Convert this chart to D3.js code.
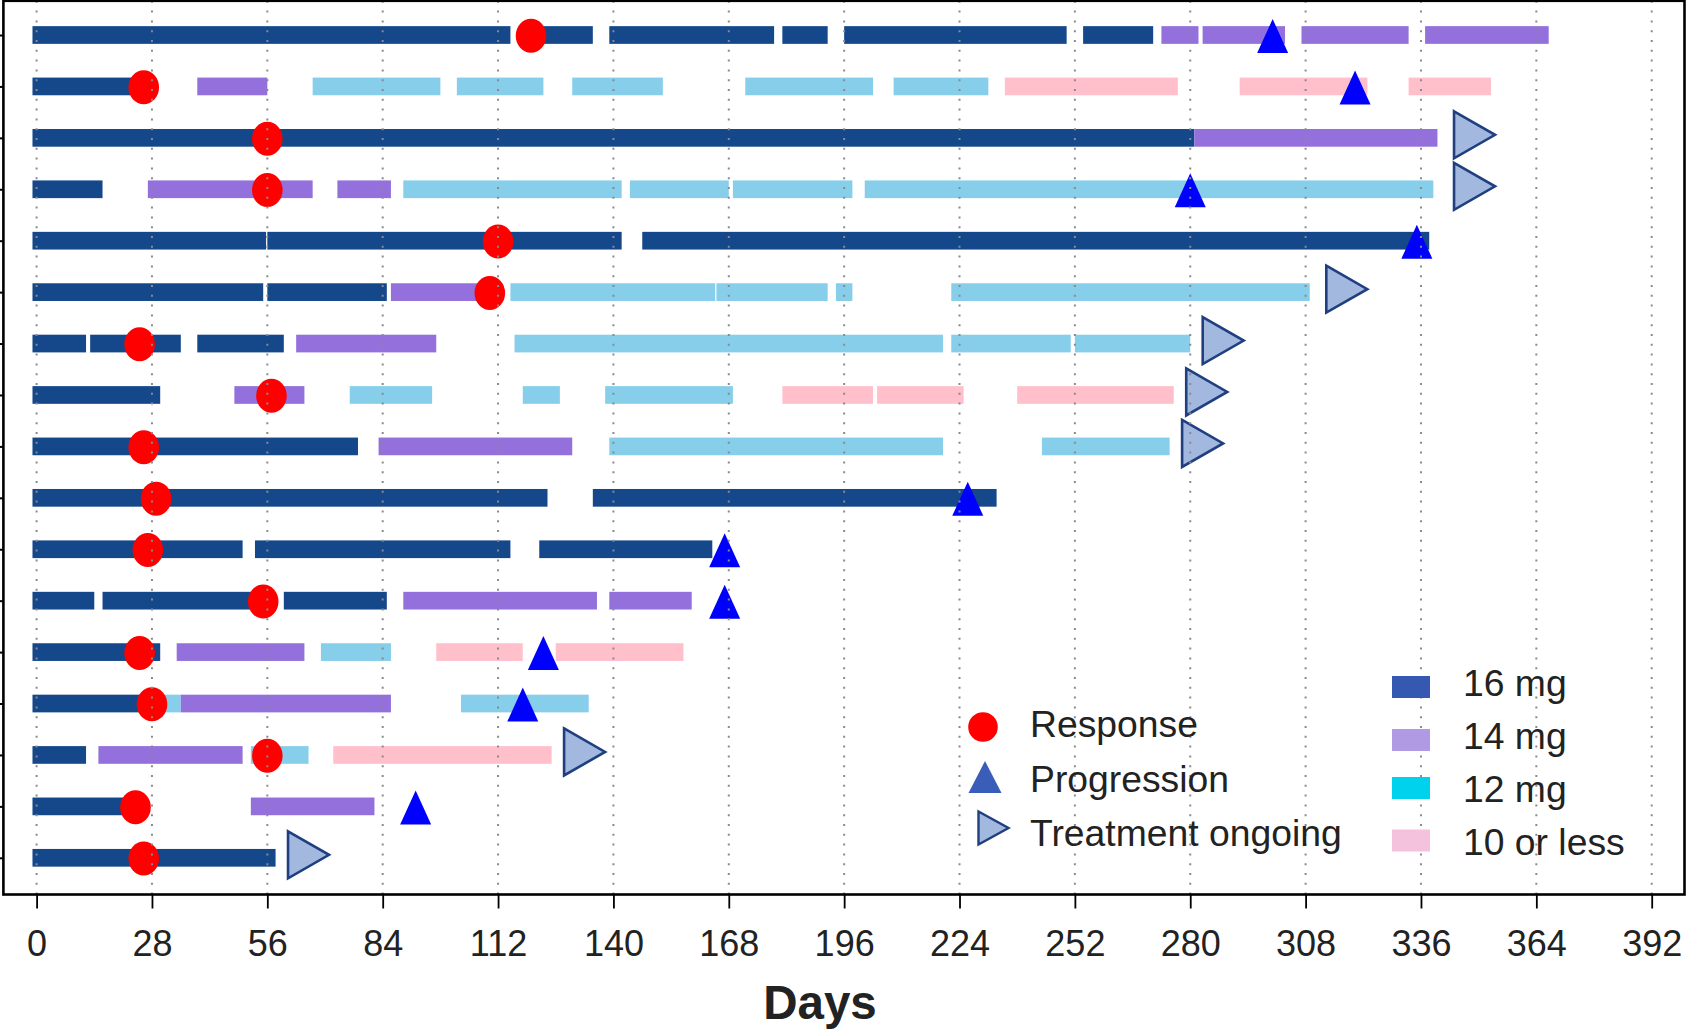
<!DOCTYPE html>
<html lang="en">
<head>
<meta charset="UTF-8">
<title>Swimmer plot - dose by day</title>
<script src="https://d3js.org/d3.v7.min.js"></script>
<style>
  html, body { margin: 0; padding: 0; background: #fff; }
  svg { display: block; }
  text { font-family: "Liberation Sans", Arial, Helvetica, sans-serif; fill: #222; }
</style>
</head>
<body>
<svg width="1686" height="1029"></svg>
<script>
// dose levels in legend order
const doseLabels = ["16 mg", "14 mg", "12 mg", "10 or less"];
const barColors = ["#14488a", "#9370db", "#87ceeb", "#ffc0cb"];
const swatchColors = ["#3558b0", "#b09ae3", "#00d2ee", "#f5c2dd"];

const patients = d3.range(1, 18);
const dayTicks = [0, 28, 56, 84, 112, 140, 168, 196, 224, 252, 280, 308, 336, 364, 392];

// dosing periods per patient (top row first): [start day, end day, dose index]
const dosing = [
  [[-1,115,0],[117,135,0],[139,179,0],[181,192,0],[196,250,0],[254,271,0],[273,282,1],[283,303,1],[307,333,1],[337,367,1]],
  [[-1,26,0],[39,56,1],[67,98,2],[102,123,2],[130,152,2],[172,203,2],[208,231,2],[235,277,3],[292,323,3],[333,353,3]],
  [[-1,281,0],[281,340,1]],
  [[-1,16,0],[27,67,1],[73,86,1],[89,142,2],[144,168,2],[169,198,2],[201,339,2]],
  [[-1,55.7,0],[56,142,0],[147,338,0]],
  [[-1,55,0],[56,85,0],[86,111,1],[115,164.7,2],[165,192,2],[194,198,2],[222,309,2]],
  [[-1,12,0],[13,35,0],[39,60,0],[63,97,1],[116,220,2],[222,251,2],[252,280,2]],
  [[-1,30,0],[48,65,1],[76,96,2],[118,127,2],[138,169,2],[181,203,3],[204,225,3],[238,276,3]],
  [[-1,78,0],[83,130,1],[139,220,2],[244,275,2]],
  [[-1,124,0],[135,233,0]],
  [[-1,50,0],[53,115,0],[122,164,0]],
  [[-1,14,0],[16,56,0],[60,85,0],[89,136,1],[139,159,1]],
  [[-1,30,0],[34,65,1],[69,86,2],[97,118,3],[126,157,3]],
  [[-1,29,0],[29,35,2],[35,86,1],[103,134,2]],
  [[-1,12,0],[15,50,1],[52,66,2],[72,125,3]],
  [[-1,24,0],[52,82,1]],
  [[-1,58,0]]
];

const responseDay    = [120, 26, 56, 56, 112, 110, 25, 57, 26, 29, 27, 55, 25, 28, 56, 24, 26];
const progressionDay = [300, 320, null, 280, 335, null, null, null, null, 226, 167, 167, 123, 118, null, 92, null];
const ongoingDay     = [null, null, 349, 349, null, 318, 288, 284, 283, null, null, null, null, null, 133, null, 66];

const eventLabels = ["Response", "Progression", "Treatment ongoing"];

// layout
const box = { left: 3.4, right: 1684.5, top: 0.8, bottom: 894.5 };
const svg = d3.select("svg");

const x = d3.scaleLinear().domain([0, 392]).range([36.6, 1651.7]);
const y = d3.scalePoint().domain(patients).range([35, 857.8]);
const barH = 17.7;

// bars
const rows = svg.append("g").attr("class", "bars");
dosing.forEach((segs, i) => {
  rows.selectAll(null)
    .data(segs)
    .enter().append("rect")
    .attr("x", d => x(d[0]))
    .attr("width", d => x(d[1]) - x(d[0]))
    .attr("y", y(patients[i]) - barH / 2)
    .attr("height", barH)
    .attr("fill", d => barColors[d[2]]);
});

// response
svg.append("g").selectAll("ellipse")
  .data(responseDay.map((d, i) => ({ day: d, p: patients[i] })).filter(d => d.day != null))
  .enter().append("ellipse")
  .attr("cx", d => x(d.day))
  .attr("cy", d => y(d.p) + 0.8)
  .attr("rx", 15.3)
  .attr("ry", 17)
  .attr("fill", "#ff0000");

// progression
const upTri = (w, h) => `M0,${-h / 2}L${w / 2},${h / 2}L${-w / 2},${h / 2}Z`;
svg.append("g").selectAll("path")
  .data(progressionDay.map((d, i) => ({ day: d, p: patients[i] })).filter(d => d.day != null))
  .enter().append("path")
  .attr("transform", d => `translate(${x(d.day)},${y(d.p) + 1})`)
  .attr("d", upTri(31, 34))
  .attr("fill", "#0000ff");

// treatment ongoing
const rightTri = (w, h) => `M${-w / 2},${-h / 2}L${w / 2},0L${-w / 2},${h / 2}Z`;
svg.append("g").selectAll("path")
  .data(ongoingDay.map((d, i) => ({ day: d, p: patients[i] })).filter(d => d.day != null))
  .enter().append("path")
  .attr("transform", d => `translate(${x(d.day)},${y(d.p) - 3})`)
  .attr("d", rightTri(41, 47))
  .attr("fill", "#a3b8de")
  .attr("stroke", "#1f3f80")
  .attr("stroke-width", 2.6)
  .attr("stroke-linejoin", "miter");

// dotted grid on top of the marks
svg.append("g").selectAll("line")
  .data(dayTicks)
  .enter().append("line")
  .attr("x1", d => x(d)).attr("x2", d => x(d))
  .attr("y1", box.top).attr("y2", box.bottom)
  .attr("stroke", "#8a8a8a")
  .attr("stroke-width", 2)
  .attr("stroke-dasharray", "2 7.8");

// axes
const xAxis = svg.append("g")
  .attr("transform", `translate(0,${box.bottom})`)
  .call(d3.axisBottom(x).tickValues(dayTicks).tickSizeInner(14).tickSizeOuter(0).tickPadding(22));
xAxis.select(".domain").remove();
xAxis.selectAll(".tick line").attr("stroke", "#000").attr("stroke-width", 1.8);
xAxis.selectAll(".tick text").attr("font-size", 36).attr("fill", "#222")
  .attr("font-family", "'Liberation Sans', Arial, sans-serif");

const yAxis = svg.append("g")
  .attr("transform", `translate(${box.left},0)`)
  .call(d3.axisLeft(y).tickSize(12).tickFormat(""));
yAxis.select(".domain").remove();
yAxis.selectAll(".tick line").attr("stroke", "#000").attr("stroke-width", 2);

// plot box
svg.append("rect")
  .attr("x", box.left).attr("y", box.top)
  .attr("width", box.right - box.left).attr("height", box.bottom - box.top)
  .attr("fill", "none").attr("stroke", "#000").attr("stroke-width", 2.6);

svg.append("text")
  .attr("x", 820).attr("y", 1019)
  .attr("text-anchor", "middle")
  .attr("font-size", 47.5).attr("font-weight", "bold")
  .text("Days");

// event legend
const evLeg = svg.append("g");
const evBase = [737, 791.5, 846];
evLeg.append("ellipse").attr("cx", 983).attr("cy", 727).attr("rx", 14.8).attr("ry", 14.8).attr("fill", "#ff0000");
evLeg.append("path").attr("transform", "translate(985,777)").attr("d", upTri(33, 32)).attr("fill", "#3a5db9");
evLeg.append("path").attr("transform", "translate(993.5,828)").attr("d", rightTri(30, 33))
  .attr("fill", "#a3b8de").attr("stroke", "#1f3f80").attr("stroke-width", 2.4);
evLeg.selectAll("text")
  .data(eventLabels)
  .enter().append("text")
  .attr("x", 1030).attr("y", (d, i) => evBase[i])
  .attr("font-size", 37.3)
  .text(d => d);

// dose legend
const doseLeg = svg.append("g");
const doseBase = [696, 749.3, 801.7, 855.3];
const swatchTop = [676, 729, 777, 829.5];
doseLeg.selectAll("rect")
  .data(doseLabels)
  .enter().append("rect")
  .attr("x", 1392).attr("y", (d, i) => swatchTop[i])
  .attr("width", 38).attr("height", 22)
  .attr("fill", (d, i) => swatchColors[i]);
doseLeg.selectAll("text")
  .data(doseLabels)
  .enter().append("text")
  .attr("x", 1463).attr("y", (d, i) => doseBase[i])
  .attr("font-size", 37.3)
  .text(d => d);
</script>
</body>
</html>
